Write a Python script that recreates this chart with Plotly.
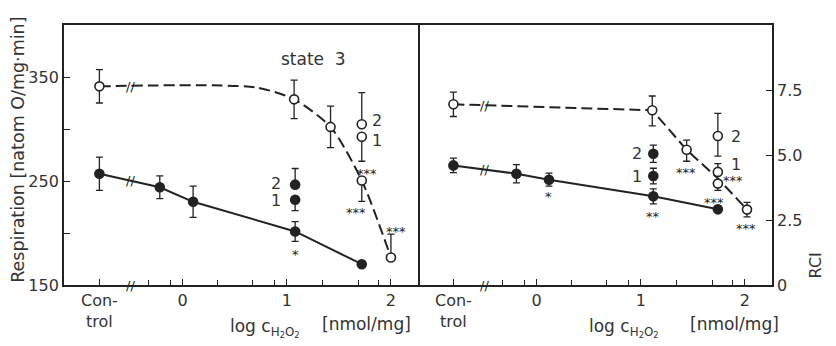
import numpy as np
import plotly.graph_objects as go

# ---------------- data ----------------
CONTROL_X = -0.8
BREAK_X = -0.5

# Left panel: Respiration (state 3) [natom O/mg min]
resp_filled_x = [CONTROL_X, -0.22, 0.10, 1.08, 1.72]
resp_filled_y = [257, 244, 230, 201.5, 170]
resp_filled_err = [16, 11, 15, 9.5, 0]

resp_filled_sub_x = [1.08, 1.08]
resp_filled_sub_y = [232, 246.5]          # "1", "2"
resp_filled_sub_plus = [0, 15.5]
resp_filled_sub_minus = [10.5, 0]
resp_filled_sub_lbl = ["1", "2"]

resp_open_x = [CONTROL_X, 1.07, 1.42, 1.72, 2.00]
resp_open_y = [341, 328.5, 302, 250.5, 176.5]
resp_open_plus = [16, 18.5, 20, 0, 22.5]
resp_open_minus = [16, 18.5, 20, 20, 0]

resp_open_sub_x = [1.72, 1.72]
resp_open_sub_y = [292.5, 304.5]           # "1", "2"
resp_open_sub_plus = [0, 30.5]
resp_open_sub_minus = [23.5, 0]
resp_open_sub_lbl = ["1", "2"]

resp_fit_x = [CONTROL_X, 0.70, 1.07, 1.42, 1.72, 2.00]
resp_fit_y = [341, 340, 328.5, 302, 250.5, 176.5]

resp_sig_x = [1.08, 1.77, 1.66, 2.05]
resp_sig_y = [183, 261, 224, 205]
resp_sig_txt = ["*", "***", "***", "***"]

# Right panel: RCI
rci_filled_x = [CONTROL_X, -0.195, 0.118, 1.12, 1.74]
rci_filled_y = [4.60, 4.28, 4.05, 3.41, 2.91]
rci_filled_err = [0.28, 0.35, 0.25, 0.29, 0]

rci_filled_sub_x = [1.12, 1.12]
rci_filled_sub_y = [4.19, 5.05]            # "1", "2"
rci_filled_sub_err = [0.30, 0.33]
rci_filled_sub_lbl = ["1", "2"]

rci_open_x = [CONTROL_X, 1.11, 1.44, 1.74, 2.02]
rci_open_y = [6.95, 6.72, 5.20, 3.90, 2.90]
rci_open_plus = [0.47, 0.55, 0.37, 0, 0.28]
rci_open_minus = [0.47, 0.60, 0.44, 0.26, 0.28]

rci_open_sub_x = [1.74, 1.74]
rci_open_sub_y = [4.35, 5.73]              # "1", "2"
rci_open_sub_plus = [0.32, 0.87]
rci_open_sub_minus = [0, 0.77]
rci_open_sub_lbl = ["1", "2"]

rci_fit_x = [CONTROL_X, 1.11, 1.44, 1.74, 2.02]
rci_fit_y = [6.95, 6.72, 5.20, 4.10, 2.90]

rci_sig_x = [0.118, 1.12, 1.43, 1.89, 1.70, 2.01]
rci_sig_y = [3.55, 2.78, 4.47, 4.19, 3.32, 2.32]
rci_sig_txt = ["*", "**", "***", "***", "***", "***"]

x_major_vals = [CONTROL_X, 0, 1, 2]
x_major_text = ["Con-<br>trol", "0", "1", "2"]
x_minor_vals = [-0.33, -0.12, 0.33, 0.67, 0.88, 1.34, 1.69, 1.88]

resp_tickvals = [150, 200, 250, 300, 350]
resp_ticktext = ["150", " ", "250", " ", "350"]
rci_tickvals = [0, 2.5, 5.0, 7.5]
rci_ticktext = ["0", "2.5", "5.0", "7.5"]

# ---------------- style ----------------
INK = "#222222"
TXT = "#333333"
FONT = "DejaVu Sans"
DASH = "11px,5px"

fig = go.Figure()


def add_series(x, y, xa, ya, plus, minus, open_marker, line=None, dash=None, shape="linear"):
    if line is not None:
        fig.add_trace(go.Scatter(x=line[0], y=line[1], xaxis=xa, yaxis=ya, mode="lines",
                                 line=dict(color=INK, width=2, dash=dash, shape=shape,
                                           smoothing=0.7),
                                 hoverinfo="skip", showlegend=False))
    marker = dict(size=9, color="white" if open_marker else INK,
                  line=dict(color=INK, width=1.6))
    fig.add_trace(go.Scatter(x=x, y=y, xaxis=xa, yaxis=ya, mode="markers",
                             marker=marker, showlegend=False,
                             error_y=dict(type="data", symmetric=False, array=plus,
                                          arrayminus=minus, color=INK,
                                          thickness=1.3, width=3.5)))


# Left panel
add_series(resp_open_x, resp_open_y, "x", "y", resp_open_plus, resp_open_minus, True,
           line=(resp_fit_x, resp_fit_y), dash=DASH, shape="spline")
add_series(resp_open_sub_x, resp_open_sub_y, "x", "y", resp_open_sub_plus,
           resp_open_sub_minus, True)
add_series(resp_filled_x, resp_filled_y, "x", "y", resp_filled_err, resp_filled_err, False,
           line=(resp_filled_x, resp_filled_y))
add_series(resp_filled_sub_x, resp_filled_sub_y, "x", "y", resp_filled_sub_plus,
           resp_filled_sub_minus, False)

# Right panel
add_series(rci_open_x, rci_open_y, "x2", "y2", rci_open_plus, rci_open_minus, True,
           line=(rci_fit_x, rci_fit_y), dash=DASH)
add_series(rci_open_sub_x, rci_open_sub_y, "x2", "y2", rci_open_sub_plus,
           rci_open_sub_minus, True)
add_series(rci_filled_x, rci_filled_y, "x2", "y2", rci_filled_err, rci_filled_err, False,
           line=(rci_filled_x, rci_filled_y))
add_series(rci_filled_sub_x, rci_filled_sub_y, "x2", "y2", rci_filled_sub_err,
           rci_filled_sub_err, False)

annotations = []

# significance stars
for xs, ys, ts, xa, ya in [(resp_sig_x, resp_sig_y, resp_sig_txt, "x", "y"),
                           (rci_sig_x, rci_sig_y, rci_sig_txt, "x2", "y2")]:
    for xv, yv, t in zip(xs, ys, ts):
        annotations.append(dict(x=xv, y=yv, xref=xa, yref=ya, text=t, showarrow=False,
                                yshift=-4, font=dict(size=13, color=INK, family=FONT)))

# "1"/"2" labels
for xs, ys, lbls, xa, ya, dx, dys in [
    (resp_filled_sub_x, resp_filled_sub_y, resp_filled_sub_lbl, "x", "y", -19, [-1, 1]),
    (resp_open_sub_x, resp_open_sub_y, resp_open_sub_lbl, "x", "y", 15, [-4, 4]),
    (rci_filled_sub_x, rci_filled_sub_y, rci_filled_sub_lbl, "x2", "y2", -16, [0, 0]),
    (rci_open_sub_x, rci_open_sub_y, rci_open_sub_lbl, "x2", "y2", 18, [7, 0]),
]:
    for xv, yv, lb, dy in zip(xs, ys, lbls, dys):
        annotations.append(dict(x=xv, y=yv, xref=xa, yref=ya, text=lb, showarrow=False,
                                xshift=dx, yshift=dy,
                                font=dict(size=16, color=TXT, family=FONT)))

# axis-break marks
brk_font = dict(size=13, color=INK, family=FONT)
for xa, ya, ys in [("x", "y", [float(np.interp(BREAK_X, resp_fit_x, resp_fit_y)),
                               float(np.interp(BREAK_X, resp_filled_x, resp_filled_y)), 150]),
                   ("x2", "y2", [float(np.interp(BREAK_X, rci_fit_x, rci_fit_y)),
                                 float(np.interp(BREAK_X, rci_filled_x, rci_filled_y)), 0])]:
    for yv in ys:
        annotations.append(dict(x=BREAK_X, y=yv, xref=xa, yref=ya, text="//",
                                showarrow=False, font=brk_font))

annotations.append(dict(x=1.26, y=367, xref="x", yref="y", text="state  3", showarrow=False,
                        font=dict(size=17, color=TXT, family=FONT)))

# axis titles
title_font = dict(size=17, color=TXT, family=FONT)
for xl, xr in [(0.2316, 0.3616), (0.7387, 0.8814)]:
    annotations.append(dict(x=xl, y=-0.165, xref="paper", yref="paper",
                            text="log c<sub>H<sub>2</sub>O<sub>2</sub></sub>", showarrow=False,
                            xanchor="left", yanchor="middle", font=title_font))
    annotations.append(dict(x=xr, y=-0.15, xref="paper", yref="paper",
                            text="[nmol/mg]", showarrow=False,
                            xanchor="left", yanchor="middle", font=title_font))
annotations.append(dict(x=-0.065, y=0.52, xref="paper", yref="paper", xanchor="center",
                        yanchor="middle", text="Respiration [natom O/mg·min]", textangle=-90,
                        showarrow=False, font=dict(size=17.5, color=TXT, family=FONT)))
annotations.append(dict(x=1.062, y=0.075, xref="paper", yref="paper", xanchor="center",
                        yanchor="middle", text="RCI", textangle=-90, showarrow=False,
                        font=dict(size=16, color=TXT, family=FONT)))

xaxis_common = dict(range=[-1.14, 2.26], tickvals=x_major_vals, ticktext=x_major_text,
                    ticks="inside", ticklen=6, tickwidth=1.3, tickcolor=INK,
                    minor=dict(tickvals=x_minor_vals, ticks="inside", ticklen=5,
                               tickwidth=1.3, tickcolor=INK),
                    showline=True, linecolor=INK, linewidth=1.8, mirror=True,
                    showgrid=False, zeroline=False,
                    tickfont=dict(size=16, color=TXT, family=FONT))

# page body has an 8px margin: figure is sized/margined so the plot area lands
# at x 64..772, y 25..285 in the 836x346 window
fig.update_layout(
    width=828, height=338,
    margin=dict(l=56, r=64, t=17, b=61),
    paper_bgcolor="white", plot_bgcolor="white",
    font=dict(family=FONT, color=TXT),
    xaxis=dict(domain=[0, 0.5], anchor="y", **xaxis_common),
    xaxis2=dict(domain=[0.5, 1], anchor="y2", **xaxis_common),
    yaxis=dict(range=[150, 400], anchor="x", tickvals=resp_tickvals, ticktext=resp_ticktext,
               ticks="inside", ticklen=6, tickwidth=1.3, tickcolor=INK,
               showline=True, linecolor=INK, linewidth=1.8, mirror=True,
               showgrid=False, zeroline=False,
               tickfont=dict(size=16, color=TXT, family=FONT)),
    yaxis2=dict(range=[0, 10], anchor="x2", side="right", tickvals=rci_tickvals,
                ticktext=rci_ticktext, ticks="inside", ticklen=6, tickwidth=1.3,
                tickcolor=INK, showline=True, linecolor=INK, linewidth=1.8, mirror=False,
                showgrid=False, zeroline=False,
                tickfont=dict(size=16, color=TXT, family=FONT)),
    annotations=annotations,
    showlegend=False,
)

fig.write_html("out.html")
